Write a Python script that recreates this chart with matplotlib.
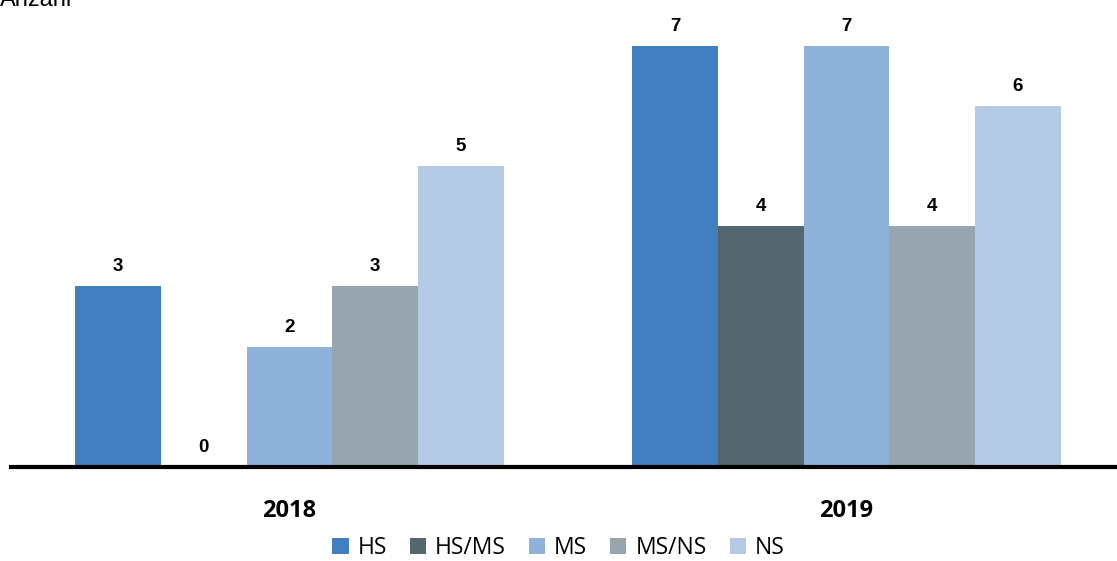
import matplotlib
matplotlib.use("Agg")
import matplotlib.pyplot as plt
import numpy as np

years = ["2018", "2019"]
series = ["HS", "HS/MS", "MS", "MS/NS", "NS"]
values = {
    "HS": [3, 7],
    "HS/MS": [0, 4],
    "MS": [2, 7],
    "MS/NS": [3, 4],
    "NS": [5, 6],
}
colors = ["#427FC0", "#54666E", "#8FB2DA", "#97A6AE", "#B5CBE5"]

fig = plt.figure(figsize=(11.17, 5.61), dpi=100)
ax = fig.add_axes([11/1117, (561-467)/561, 1114/1117, 467/561])

x = np.arange(len(years))
bw = 0.154
n = len(series)
for i, (s, c) in enumerate(zip(series, colors)):
    off = (i - (n - 1) / 2) * bw
    ax.bar(x + off, values[s], width=bw, color=c, label=s, zorder=2)
    for xi, v in zip(x + off, values[s]):
        ax.annotate(str(v), (xi, v), xytext=(0, 8), textcoords="offset points",
                    ha="center", va="bottom", fontsize=13.5, fontweight="bold",
                    family="Liberation Sans")

ax.set_xlim(-0.5, 1.5)
ax.set_ylim(0, 7.76)
for sp in ["top", "right", "left"]:
    ax.spines[sp].set_visible(False)
ax.spines["bottom"].set_linewidth(3)
ax.spines["bottom"].set_zorder(3)
ax.set_yticks([])
ax.set_xticks(x)
ax.set_xticklabels(years, fontsize=17, fontweight="bold", family="Open Sans")
ax.tick_params(axis="x", length=0, pad=23)

fig.text(0.0, 1.0, "Anzahl", ha="left", va="center", fontsize=17, family="Liberation Sans")

fig.legend(loc="center", bbox_to_anchor=(0.5, (561-548)/561), ncol=5, frameon=False,
           handlelength=0.7, handleheight=0.7, handletextpad=0.4,
           columnspacing=1.0, prop={"family": "Open Sans", "size": 16.5})

fig.savefig("out.png", dpi=100)
